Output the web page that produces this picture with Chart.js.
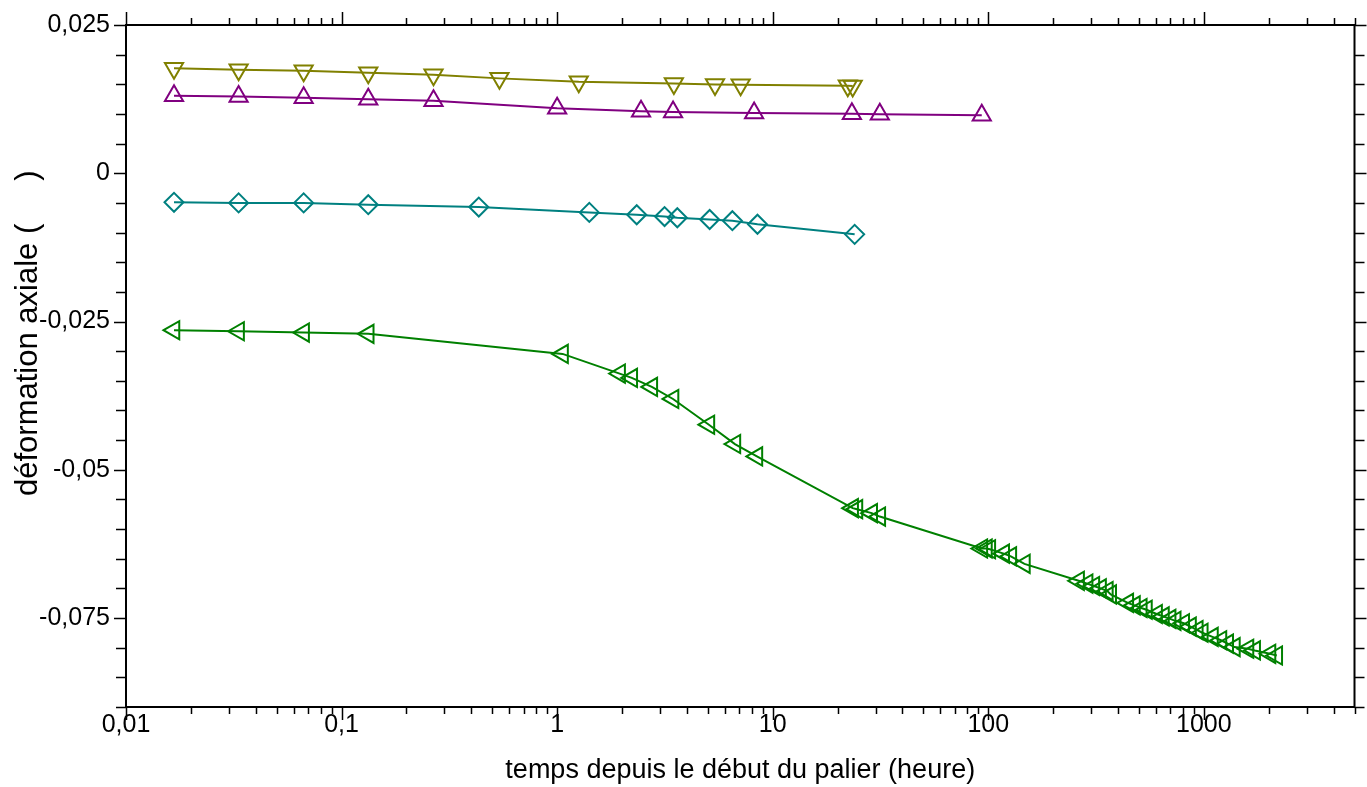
<!DOCTYPE html>
<html>
<head>
<meta charset="utf-8">
<script src="https://cdn.jsdelivr.net/npm/chart.js@4.4.0/dist/chart.umd.min.js"></script>
<style>
  html, body { margin: 0; padding: 0; background: #fff; }
  #wrap { width: 1367px; height: 787px; }
</style>
</head>
<body>
<div id="wrap"><canvas id="chart1"></canvas></div>
<script>
// time (heure) and axial strain for each loading step
var tOlive = [0.0167, 0.0333, 0.0667, 0.133, 0.267, 0.54, 1.26, 3.48, 5.4, 7.1, 22.3, 23.5];
var vOlive = [0.0177, 0.01745, 0.01728, 0.01694, 0.0166, 0.016, 0.01542, 0.01515, 0.01498, 0.01492, 0.01475, 0.0147];

var tPurple = [0.0167, 0.0333, 0.0667, 0.133, 0.267, 1.0, 2.45, 3.45, 8.2, 23.3, 31.4, 93.3];
var vPurple = [0.01306, 0.01296, 0.01272, 0.0125, 0.01221, 0.01098, 0.01047, 0.01035, 0.01018, 0.01002, 0.00997, 0.0098];

var tTeal = [0.0167, 0.0333, 0.0667, 0.133, 0.433, 1.41, 2.34, 3.15, 3.61, 5.1, 6.5, 8.5, 24.0];
var vTeal = [-0.0049, -0.005, -0.005, -0.0053, -0.0057, -0.0066, -0.007, -0.0073, -0.0075, -0.0078, -0.008, -0.0086, -0.0103];

var tGreen = [0.0167, 0.0333, 0.0667, 0.133, 1.06, 1.95, 2.22, 2.75, 3.45, 5.06, 6.68, 8.45,
  23.5, 24.6, 28.8, 31.4, 93.4, 98.1, 101.7, 118, 127.3, 147.2,
  262.6, 287.6, 309, 332, 357, 370, 444, 477, 513, 542, 604, 650, 698, 737,
  807, 868, 933, 984, 1097, 1201, 1291, 1387, 1603, 1722, 2028, 2180];
var vGreen = [-0.02647, -0.02664, -0.02686, -0.02708, -0.03046, -0.03378, -0.03451, -0.03603, -0.03806, -0.0424, -0.04566, -0.04775,
  -0.05647, -0.05664, -0.05731, -0.05789, -0.06328, -0.06328, -0.0634, -0.06414, -0.0646, -0.06586,
  -0.06872, -0.06919, -0.0696, -0.07, -0.07044, -0.07101, -0.07245, -0.07286, -0.07331, -0.0736, -0.07432, -0.07473, -0.07514, -0.07547,
  -0.07588, -0.07645, -0.07703, -0.07748, -0.07818, -0.07875, -0.07932, -0.0799, -0.08017, -0.08046, -0.08103, -0.08132];

var xDecades = [0.01, 0.1, 1, 10, 100, 1000];
var xLabels = ["0,01", "0,1", "1", "10", "100", "1000"];
var yMajor = [0.025, 0, -0.025, -0.05, -0.075];
var yLabels = ["0,025", "0", "-0,025", "-0,05", "-0,075"];
var yTitle = "déformation axiale (     )";

var X_MIN = 0.01, X_MAX = 5000, Y_MIN = -0.09, Y_MAX = 0.025;

function pts(t, v) {
	return t.map(function(x, i) { return { x: x, y: v[i] }; });
}

// log ticks 1..9 per decade
var xTicks = [];
xDecades.forEach(function(d) {
	for (var m = 1; m <= 9; m++) {
		var v = +(m * d).toPrecision(3);
		if (v <= X_MAX) xTicks.push(v);
	}
});
var yTicks = [];
for (var k = 0; k <= 23; k++) yTicks.push(+(Y_MIN + k * 0.005).toFixed(3));

function isDecade(v) {
	return xDecades.some(function(d) { return Math.abs(d - v) < d * 1e-6; });
}
function isYMajor(v) {
	return yMajor.some(function(d) { return Math.abs(d - v) < 1e-6; });
}

var FAMILY = "'Liberation Sans', Arial, sans-serif";
var tickFont = { family: FAMILY, size: 25 };
var titleFont = { family: FAMILY, size: 27 };

function series(t, v, color, style, rot) {
	return {
		data: pts(t, v),
		borderColor: color,
		backgroundColor: "rgba(0,0,0,0)",
		borderWidth: 2,
		pointStyle: style,
		rotation: rot,
		pointRadius: style === "rectRot" ? 9.5 : 10.5,
		pointBorderWidth: 2,
		pointBorderColor: color,
		pointBackgroundColor: "rgba(0,0,0,0)",
		tension: 0
	};
}

// frame, outward tick marks on all four sides, y title
var frameTicks = {
	id: "frameTicks",
	afterDraw: function(chart) {
		var ctx = chart.ctx, a = chart.chartArea;
		var sx = chart.scales.x, sy = chart.scales.y;
		ctx.save();
		ctx.strokeStyle = "#000";
		ctx.lineWidth = 2;
		ctx.strokeRect(a.left, a.top, a.right - a.left, a.bottom - a.top);
		ctx.lineWidth = 1.5;
		ctx.beginPath();
		xTicks.forEach(function(v) {
			var px = Math.round(sx.getPixelForValue(v)) + 0.5;
			var len = isDecade(v) ? 13 : 7;
			ctx.moveTo(px, a.bottom); ctx.lineTo(px, a.bottom + len);
			ctx.moveTo(px, a.top); ctx.lineTo(px, a.top - len);
		});
		yTicks.forEach(function(v) {
			var py = Math.round(sy.getPixelForValue(v)) + 0.5;
			var len = isYMajor(v) ? 12 : 10;
			ctx.moveTo(a.left, py); ctx.lineTo(a.left - len, py);
			ctx.moveTo(a.right, py); ctx.lineTo(a.right + len, py);
		});
		ctx.stroke();

		ctx.translate(28, 496);
		ctx.rotate(-Math.PI / 2);
		ctx.fillStyle = "#000";
		ctx.font = "31px " + FAMILY;
		ctx.textAlign = "left";
		ctx.textBaseline = "middle";
		ctx.fillText(yTitle, 0, 0);
		ctx.restore();
	}
};

var chart = new Chart(document.getElementById("chart1"), {
	type: "line",
	data: {
		datasets: [
			series(tOlive, vOlive, "#808000", "triangle", 180),
			series(tPurple, vPurple, "#800080", "triangle", 0),
			series(tTeal, vTeal, "#008080", "rectRot", 0),
			series(tGreen, vGreen, "#008000", "triangle", 270)
		]
	},
	options: {
		responsive: true,
		maintainAspectRatio: false,
		animation: false,
		layout: { padding: { top: 25, right: 12, left: 0, bottom: 0 } },
		plugins: {
			legend: { display: false },
			tooltip: { enabled: false }
		},
		scales: {
			x: {
				type: "logarithmic",
				min: X_MIN,
				max: X_MAX,
				afterBuildTicks: function(s) {
					s.ticks = xTicks.map(function(v) { return { value: v }; });
				},
				afterFit: function(s) { s.height = 80; },
				ticks: {
					autoSkip: false,
					maxRotation: 0,
					minRotation: 0,
					color: "#000",
					font: tickFont,
					padding: 0,
					callback: function(v) {
						var i = xDecades.findIndex(function(d) { return Math.abs(d - v) < d * 1e-6; });
						return i >= 0 ? xLabels[i] : "";
					}
				},
				grid: { display: true, drawOnChartArea: false, drawTicks: true, tickLength: 3, color: "rgba(0,0,0,0)" },
				border: { display: false },
				title: {
					display: true,
					text: "temps depuis le début du palier (heure)",
					color: "#000",
					font: titleFont,
					padding: { top: 0, bottom: 0 }
				}
			},
			y: {
				type: "linear",
				min: Y_MIN,
				max: Y_MAX,
				afterBuildTicks: function(s) {
					s.ticks = yTicks.map(function(v) { return { value: v }; });
				},
				afterFit: function(s) { s.width = 126; },
				ticks: {
					autoSkip: false,
					color: "#000",
					font: tickFont,
					padding: 2,
					callback: function(v) {
						var i = yMajor.findIndex(function(d) { return Math.abs(d - v) < 1e-6; });
						return i >= 0 ? yLabels[i] : "";
					}
				},
				grid: { display: true, drawOnChartArea: false, drawTicks: true, tickLength: 14, color: "rgba(0,0,0,0)" },
				border: { display: false },
				title: { display: false }
			}
		}
	},
	plugins: [frameTicks]
});
</script>
</body>
</html>
